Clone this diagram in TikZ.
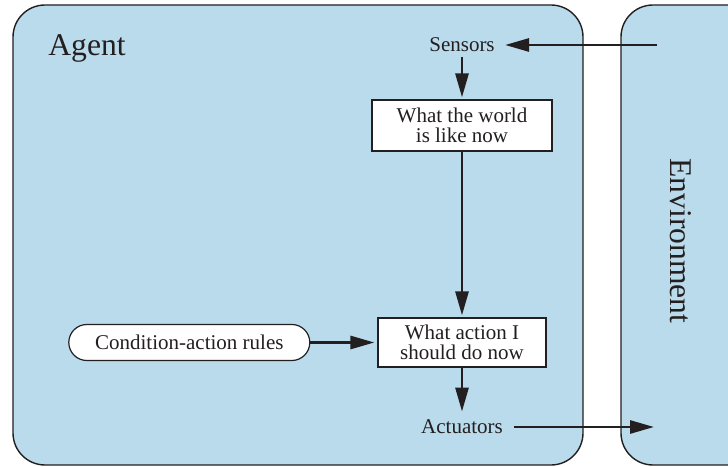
\documentclass[tikz,border=0pt]{standalone}
\usepackage{fontspec}
\setmainfont{Liberation Serif}
\usepackage{tikz}
\usetikzlibrary{arrows.meta}
\usetikzlibrary{positioning}
\definecolor{agentfill}{RGB}{186,219,235}
\definecolor{inkgray}{RGB}{35,31,32}
\def\rulesep{33.5pt}
\tikzset{
  >={Triangle[length=12pt,width=6.5pt]}, % long narrow heads
  frame/.style={draw=inkgray,line width=0.7pt,fill=agentfill,rounded corners=16pt},
  node box/.style={draw=inkgray,line width=0.6pt,fill=white,text=inkgray,align=center,inner sep=0pt,
    font=\fontsize{10.5}{10}\selectfont},
  node rules/.style={node box,rounded corners=9pt},
  node label/.style={text=inkgray,inner sep=0pt,font=\fontsize{10.5}{12}\selectfont},
  node title/.style={text=inkgray,font=\fontsize{15.8}{18}\selectfont},
  connect arrow/.style={->,line width=1.4pt,inkgray}
}

\begin{document}
\begin{tikzpicture}[x=0.5pt,y=0.5pt]
	\useasboundingbox (0,0) rectangle (728,466);
	\clip (0,0) rectangle (728,466);

	% Frames
	\path[frame] (13,1) rectangle (583,461);
	\path[frame] (621,1) rectangle (790,461);

	\node[node title] (agent) at (87,418) {Agent};
	\node[node title,rotate=-90] (env) at (681,225) {Environment};

	% Inside the agent
	\node[node label] (sensors) at (462,421) {Sensors};
	\node[node box,minimum width=90pt,minimum height=25.5pt] (world) at (462,340.5) {What the world\\is like now};
	\node[node box,minimum width=84pt,minimum height=24.5pt] (action) at (462,123.5) {What action I\\should do now};
	\node[node rules,minimum width=120.5pt,minimum height=18pt,left=\rulesep of action] (rules) {Condition-action rules};
	\node[node label] (actuators) at (462,39) {Actuators};

	\coordinate (envin) at (657,421);
	\coordinate (envout) at (654,39);

	\draw[connect arrow,shorten >=5pt] (envin) -- (sensors);
	\draw[connect arrow,shorten <=2.5pt,shorten >=1pt] (sensors) -- (world);
	\draw[connect arrow,shorten >=1pt] (world) -- (action);
	\draw[connect arrow,shorten >=1.5pt] (rules) -- (action);
	\draw[connect arrow,shorten >=4pt] (action) -- (actuators);
	\draw[connect arrow,shorten <=5.5pt] (actuators) -- (envout);
\end{tikzpicture}
\end{document}
